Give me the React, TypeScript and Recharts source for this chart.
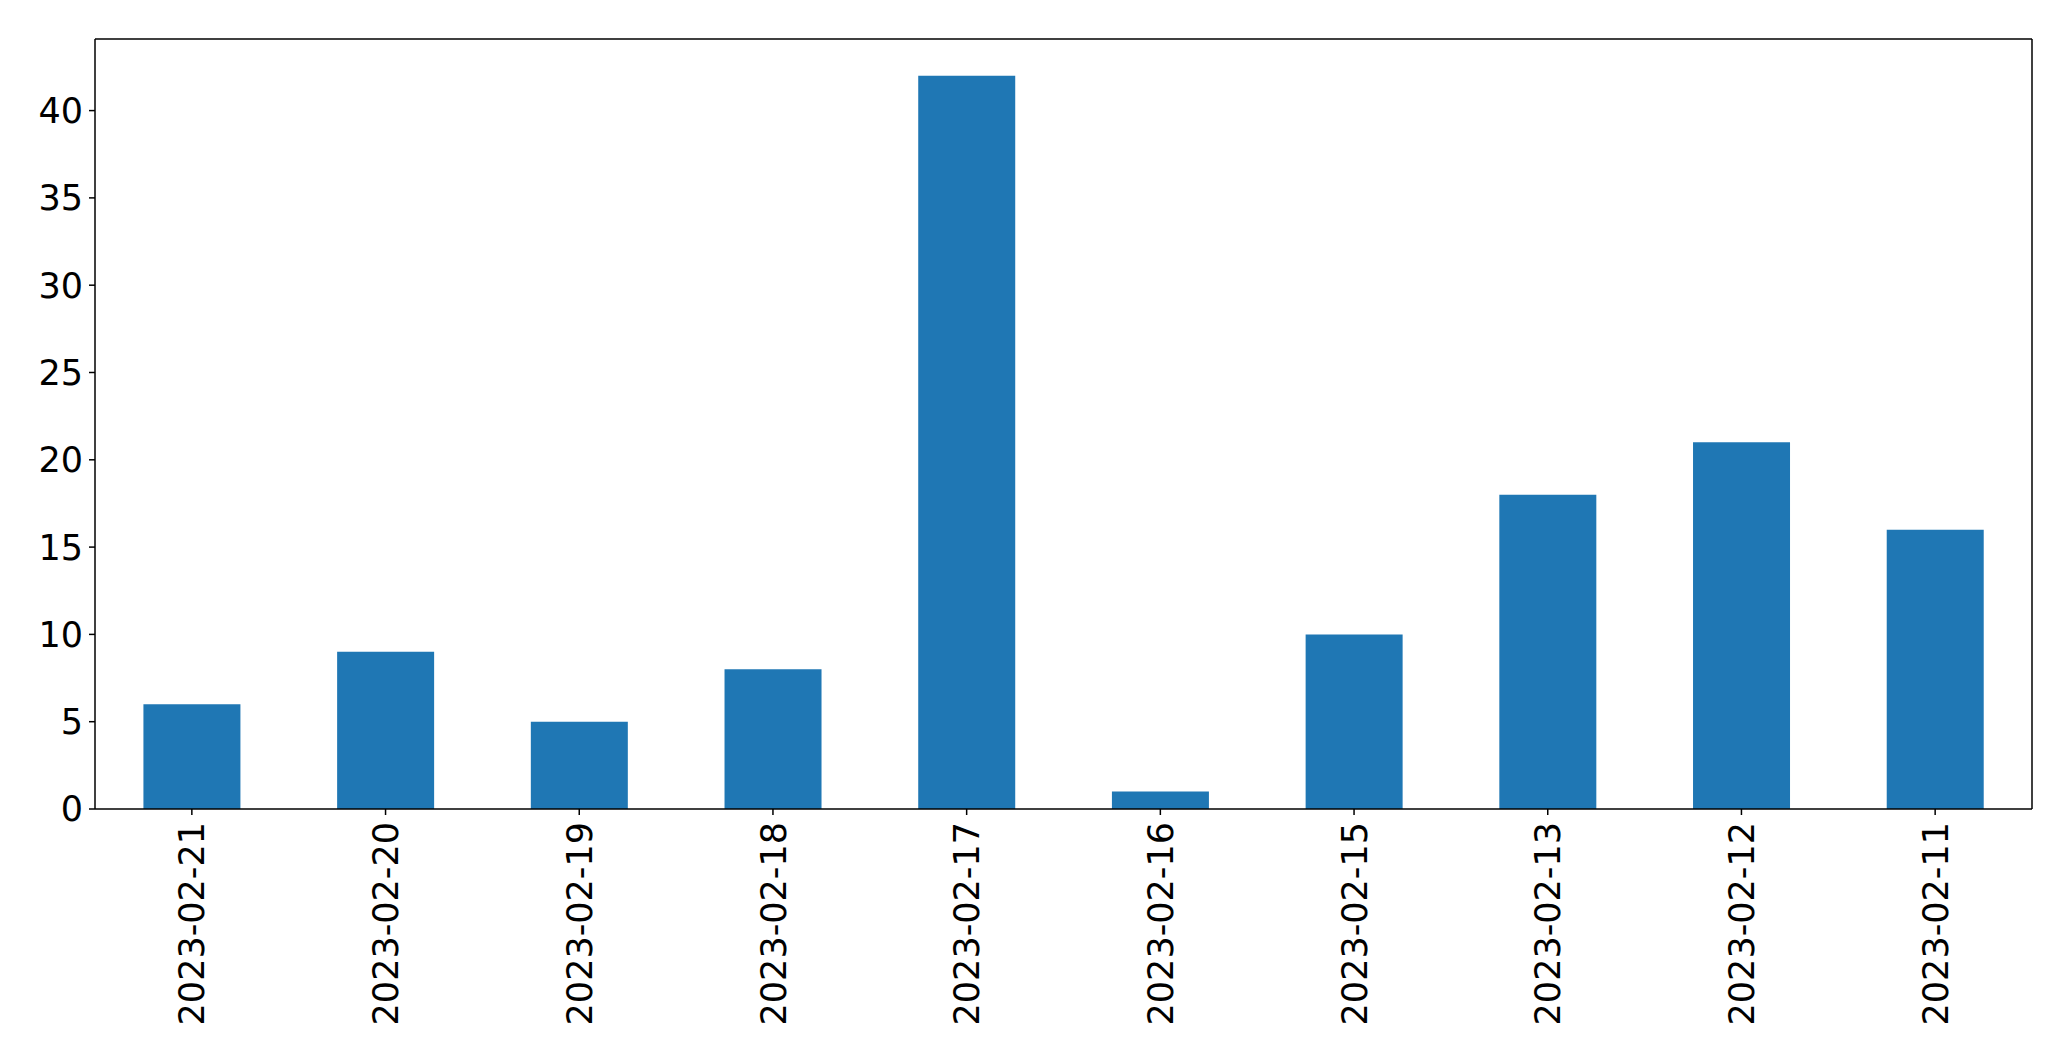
import { BarChart, Bar, XAxis, YAxis } from 'recharts'

const dates = [
  '2023-02-21', '2023-02-20', '2023-02-19', '2023-02-18', '2023-02-17',
  '2023-02-16', '2023-02-15', '2023-02-13', '2023-02-12', '2023-02-11',
]
const counts = [6, 9, 5, 8, 42, 1, 10, 18, 21, 16]
const yTicks = [0, 5, 10, 15, 20, 25, 30, 35, 40]

const data = dates.map((d, i) => ({ date: d, count: counts[i] }))

const FONT = "'DejaVu Sans', sans-serif"
const LINE = { stroke: '#000', strokeWidth: 1.5 }

// eslint-disable-next-line @typescript-eslint/no-explicit-any
function RotTick({ x, y, payload }: any) {
  return (
    <text
      x={x}
      y={y}
      transform={`rotate(-90, ${x}, ${y})`}
      textAnchor="end"
      dy="0.36em"
      fontFamily={FONT}
      fontSize={35}
      fill="#000"
    >
      {payload.value}
    </text>
  )
}

export default function App() {
  return (
    <div style={{ position: 'absolute', left: 0, top: 0, background: '#fff' }}>
      <BarChart
        width={2071}
        height={1061}
        data={data}
        margin={{ top: 38, right: 38, left: 0, bottom: 0 }}
        barCategoryGap="25%"
      >
        <XAxis
          dataKey="date"
          height={252}
          interval={0}
          tick={<RotTick />}
          tickSize={6}
          tickMargin={7}
          axisLine={LINE}
          tickLine={LINE}
        />
        <XAxis
          xAxisId="top"
          orientation="top"
          dataKey="date"
          height={1}
          tick={false}
          tickLine={false}
          axisLine={LINE}
        />
        <YAxis
          width={95}
          domain={[0, 44.1]}
          ticks={yTicks}
          tickSize={6}
          tickMargin={6}
          tick={{ fontFamily: FONT, fontSize: 35, fill: '#000' }}
          axisLine={LINE}
          tickLine={LINE}
        />
        <YAxis
          yAxisId="right"
          orientation="right"
          width={1}
          domain={[0, 44.1]}
          tick={false}
          tickLine={false}
          axisLine={LINE}
        />
        <Bar dataKey="count" fill="#1f77b4" isAnimationActive={false} />
      </BarChart>
    </div>
  )
}
